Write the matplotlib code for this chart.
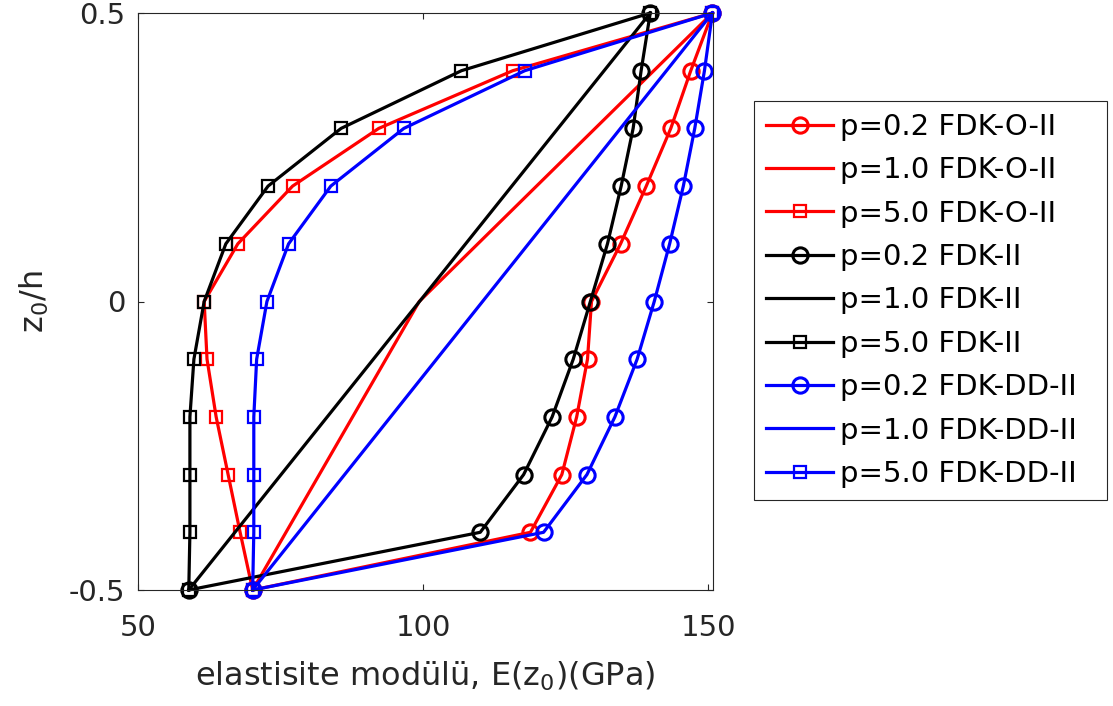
import matplotlib
matplotlib.use("Agg")
import matplotlib.pyplot as plt

plt.rcParams['font.family'] = ['DejaVu Sans']
plt.rcParams['mathtext.default'] = 'regular'

# ---- data ----
z = [-0.5, -0.4, -0.3, -0.2, -0.1, 0.0, 0.1, 0.2, 0.3, 0.4, 0.5]

red_p02 = [70.1, 118.8, 124.3, 126.9, 128.8, 129.5, 134.6, 139.1, 143.4, 146.9, 150.7]
red_p1_z = [-0.5, 0.0, 0.5]
red_p1 = [70.1, 99.3, 150.7]
red_p5 = [70.1, 67.9, 65.8, 63.7, 62.1, 61.6, 67.5, 77.1, 92.2, 115.7, 150.7]

black_p02 = [58.9, 110.0, 117.6, 122.6, 126.3, 129.3, 132.3, 134.7, 136.8, 138.2, 139.8]
black_p1_z = [-0.5, 0.5]
black_p1 = [58.9, 139.8]
black_p5 = [58.9, 59.1, 59.1, 59.1, 59.8, 61.6, 65.4, 72.8, 85.6, 106.7, 139.8]

blue_p02 = [70.1, 121.1, 128.7, 133.6, 137.5, 140.5, 143.2, 145.6, 147.6, 149.3, 150.7]
blue_p1_z = [-0.5, 0.5]
blue_p1 = [70.1, 150.7]
blue_p5 = [70.1, 70.3, 70.3, 70.3, 70.8, 72.6, 76.4, 83.8, 96.6, 117.8, 150.7]

labels = ['p=0.2 FDK-O-II', 'p=1.0 FDK-O-II', 'p=5.0 FDK-O-II',
          'p=0.2 FDK-II', 'p=1.0 FDK-II', 'p=5.0 FDK-II',
          'p=0.2 FDK-DD-II', 'p=1.0 FDK-DD-II', 'p=5.0 FDK-DD-II']

x_ticks = [50, 100, 150]
y_ticks = [-0.5, 0, 0.5]
y_tick_labels = ['-0.5', '0', '0.5']

# ---- figure ----
W, H = 1113, 706
fig = plt.figure(figsize=(W / 100, H / 100), dpi=100)
L, R, T, B = 138, 713, 13, 590
ax = fig.add_axes([L / W, 1 - B / H, (R - L) / W, (B - T) / H])

lw = 2.3
circ = dict(marker='o', markersize=11, markeredgewidth=2.2, markerfacecolor='none')
sq = dict(marker='s', markersize=8.5, markeredgewidth=1.6, markerfacecolor='none')

series = [
    (z, red_p02, 'r', circ), (red_p1_z, red_p1, 'r', None), (z, red_p5, 'r', sq),
    (z, black_p02, 'k', circ), (black_p1_z, black_p1, 'k', None), (z, black_p5, 'k', sq),
    (z, blue_p02, 'b', circ), (blue_p1_z, blue_p1, 'b', None), (z, blue_p5, 'b', sq),
]
color_map = {'r': '#FF0000', 'k': '#000000', 'b': '#0000FF'}
handles = []
for (zz, ee, c, mk), lab in zip(series, labels):
    kw = mk if mk is not None else {}
    h, = ax.plot(ee, zz, color=color_map[c], lw=lw, label=lab, clip_on=False, **kw)
    handles.append(h)

ax.set_xlim(50, 150.8)
ax.set_ylim(-0.5, 0.5)
ax.set_xticks(x_ticks)
ax.set_yticks(y_ticks)
ax.set_yticklabels(y_tick_labels)

edge = '#262626'
for s in ax.spines.values():
    s.set_color(edge)
    s.set_linewidth(0.8)
ax.tick_params(direction='in', length=4, width=0.8, colors=edge, labelsize=21,
               top=True, right=True)
ax.tick_params(axis='x', pad=17)
ax.tick_params(axis='y', pad=9)

ax.set_xlabel('elastisite modülü, E(z$_0$)(GPa)', fontsize=23, color=edge)
ax.set_ylabel('z$_0$/h', fontsize=23, color=edge)
ax.xaxis.set_label_coords(0.5, -0.12)
ax.yaxis.set_label_coords(-0.152, 0.5)

leg_x0, leg_y0, leg_x1, leg_y1 = 754, 101, 1107, 500
leg = fig.legend(handles=handles, loc='upper left',
                 bbox_to_anchor=(leg_x0 / W, 1 - leg_y1 / H,
                                 (leg_x1 - leg_x0) / W, (leg_y1 - leg_y0) / H),
                 bbox_transform=fig.transFigure, mode='expand',
                 fontsize=21, frameon=True, fancybox=False, framealpha=1,
                 edgecolor=edge, borderpad=0.41, labelspacing=0.527,
                 handlelength=2.3, handletextpad=0.25, borderaxespad=0)
leg.get_frame().set_linewidth(0.8)

fig.savefig('out.png', dpi=100)
